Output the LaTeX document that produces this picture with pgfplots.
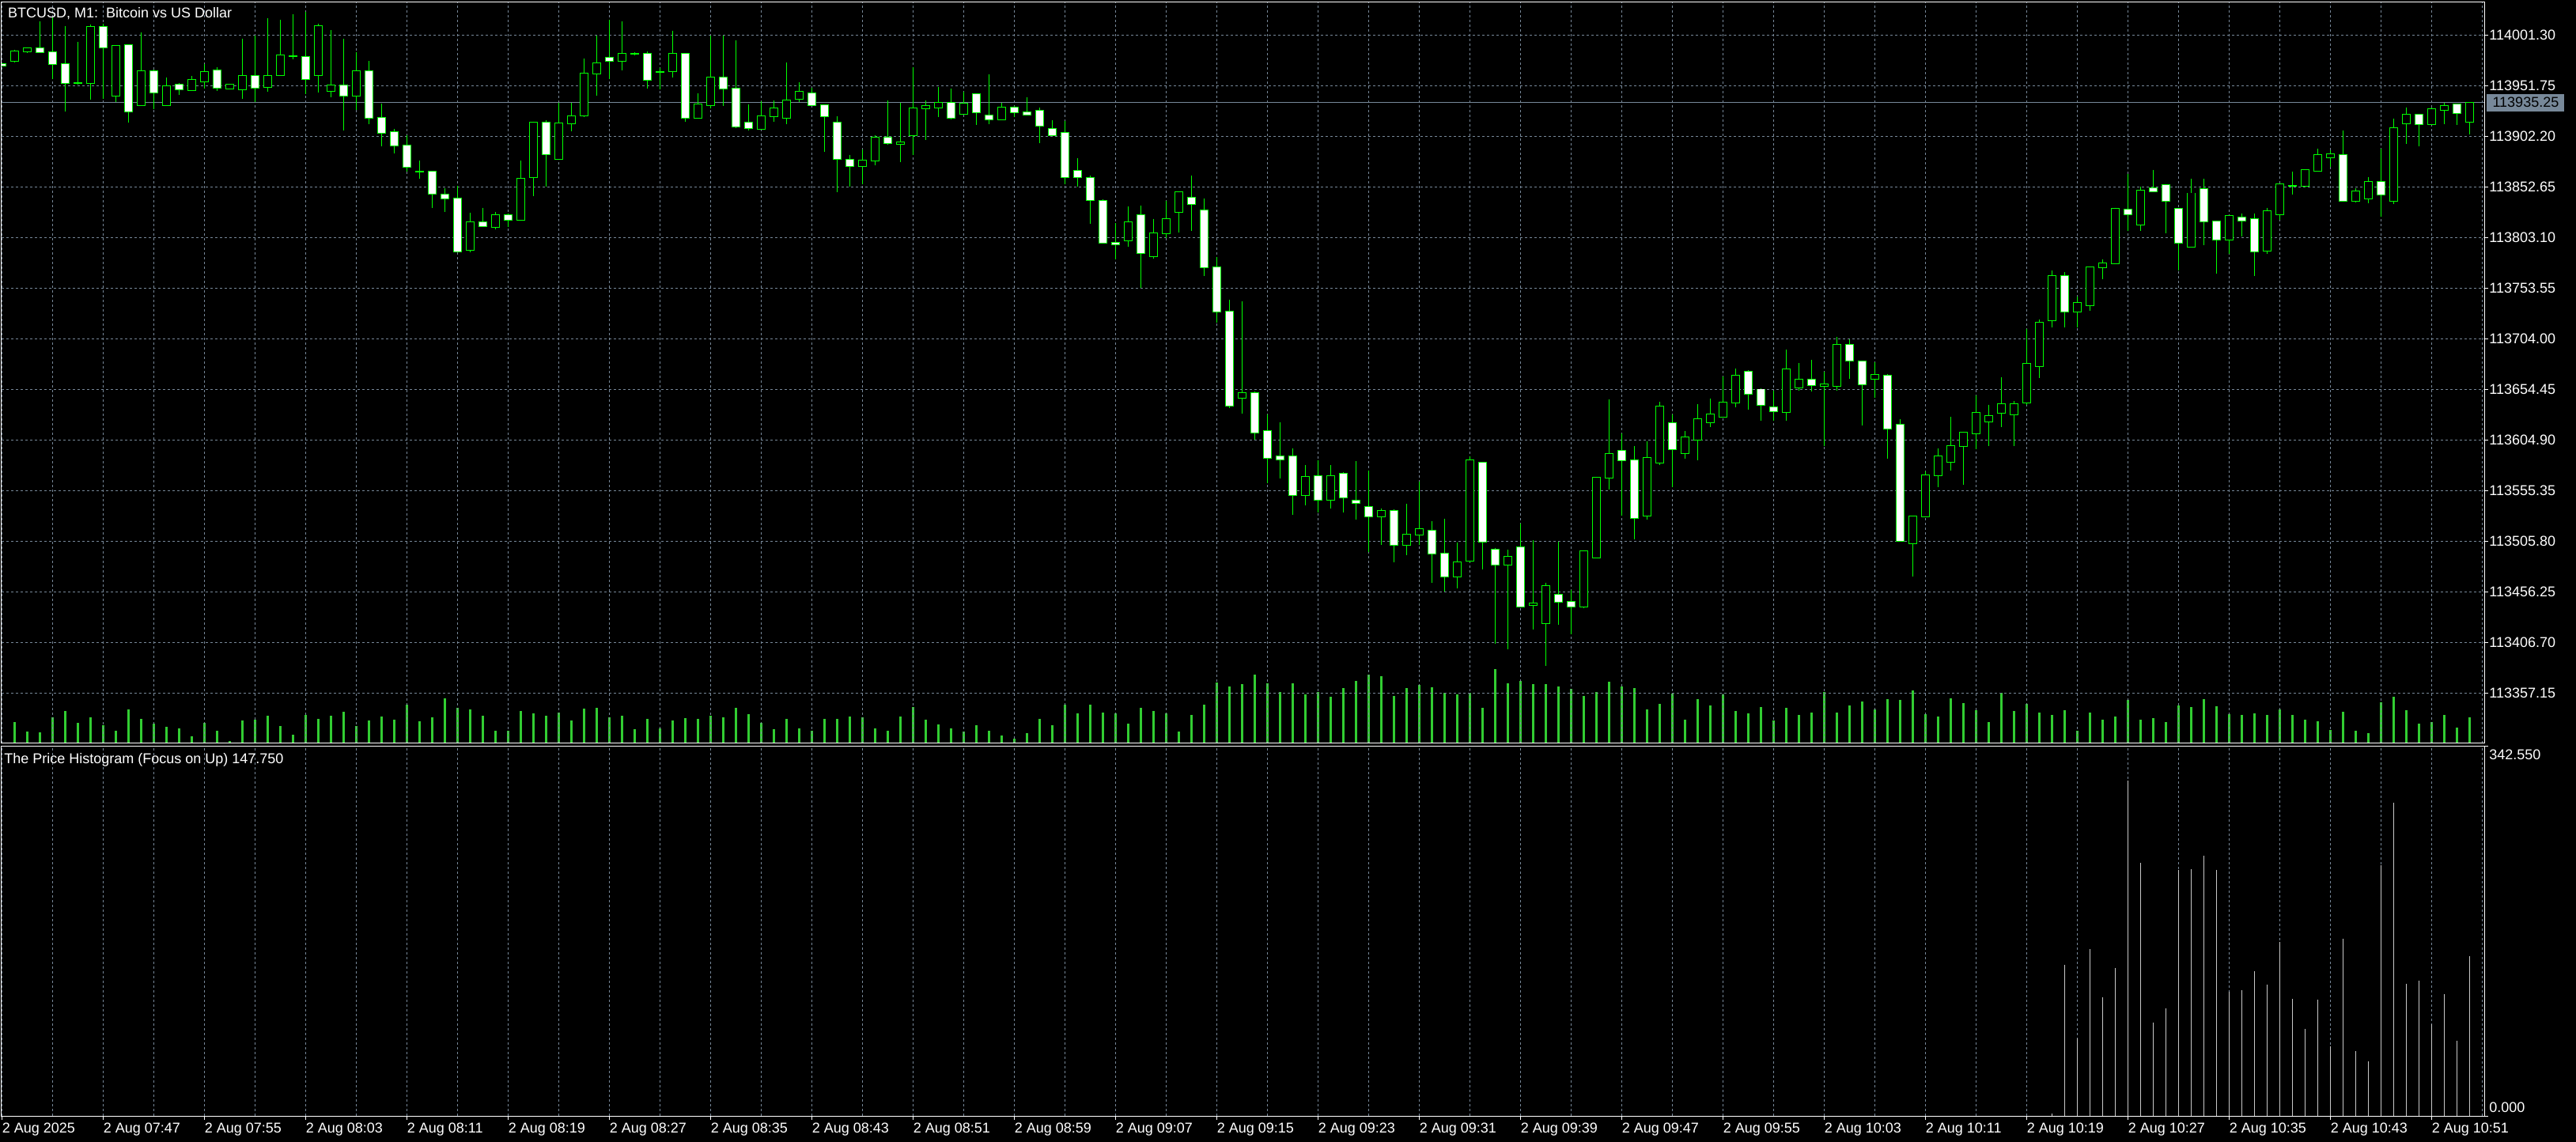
\documentclass[border=0pt]{standalone}
\usepackage{fontspec}
\setmainfont{Liberation Sans}
\usepackage{pgfplots}
\usepackage{pgfplotstable}
\pgfplotsset{compat=1.18}
\definecolor{candlegreen}{RGB}{0,255,0}
\definecolor{volgreen}{RGB}{50,205,50}
\definecolor{gridgray}{RGB}{119,136,153}
\definecolor{histgray}{RGB}{200,200,200}
\newcommand{\mtfont}{\fontsize{9}{10.8}\selectfont}

\pgfplotstableread{
i o h l c
0 113972.9 113973.7 113970.6 113971.3
1 113975.8 113986.6 113974.7 113985.0
2 113985.0 113988.4 113983.5 113988.1
3 113988.1 114014.5 113983.5 113984.3
4 113984.3 114019.3 113958.2 113972.7
5 113972.7 114010.1 113926.4 113954.1
6 113954.3 113994.6 113952.8 113954.3
7 113954.5 114011.6 113938.1 114009.3
8 114009.0 114012.4 113938.8 113988.9
9 113942.2 113991.2 113935.7 113990.5
10 113991.2 113991.5 113915.6 113926.7
11 113932.4 114003.9 113931.9 113965.7
12 113965.7 113967.5 113929.0 113945.3
13 113932.9 113959.7 113932.6 113951.0
14 113953.0 113954.3 113942.7 113947.9
15 113947.6 113961.0 113947.3 113957.2
16 113956.1 113973.1 113948.9 113964.9
17 113966.5 113969.8 113946.8 113949.4
18 113948.9 113953.5 113948.9 113952.5
19 113947.9 113997.7 113939.1 113961.0
20 113961.0 114001.0 113935.5 113949.4
21 113950.2 114017.8 113946.0 113961.5
22 113961.8 114016.2 113961.3 113981.2
23 113980.6 114021.7 113977.8 113980.6
24 113980.1 114024.2 113943.7 113958.0
25 113961.8 114012.1 113944.8 114009.8
26 113946.3 114006.2 113940.6 113951.8
27 113951.8 113997.4 113908.1 113941.7
28 113941.7 113984.3 113928.2 113965.7
29 113965.7 113975.8 113914.3 113920.0
30 113920.0 113934.0 113892.6 113905.3
31 113906.1 113909.2 113885.6 113892.9
32 113892.9 113903.2 113867.8 113872.0
33 113867.6 113878.2 113860.6 113867.6
34 113867.4 113867.6 113831.8 113845.7
35 113845.4 113851.3 113828.4 113841.0
36 113841.0 113853.9 113789.4 113789.4
37 113790.7 113827.1 113788.9 113817.8
38 113818.3 113832.2 113813.2 113814.0
39 113813.2 113828.1 113811.3 113824.8
40 113824.8 113826.6 113813.6 113820.4
41 113820.4 113878.2 113820.4 113860.6
42 113862.0 113916.4 113843.8 113915.8
43 113915.8 113917.9 113853.1 113884.4
44 113880.2 113935.3 113880.0 113915.2
45 113915.2 113935.3 113907.2 113921.8
46 113922.2 113978.2 113921.3 113963.3
47 113963.3 114001.1 113941.8 113973.5
48 113978.7 114016.0 113958.2 113976.3
49 113976.3 114014.6 113966.5 113982.9
50 113982.9 113984.3 113981.4 113982.9
51 113982.9 113985.3 113948.9 113957.2
52 113965.2 113969.0 113948.1 113965.2
53 113965.6 114005.7 113959.5 113982.9
54 113982.9 113983.0 113916.6 113919.9
55 113919.9 113944.2 113919.9 113933.4
56 113932.9 114000.6 113929.7 113959.5
57 113959.5 114001.1 113931.5 113948.8
58 113948.8 113996.0 113910.1 113912.0
59 113915.7 113933.4 113908.2 113910.1
60 113909.1 113936.2 113909.1 113921.8
61 113921.8 113937.1 113916.1 113929.2
62 113919.9 113974.4 113914.3 113937.6
63 113938.5 113954.9 113935.7 113946.0
64 113944.2 113949.3 113932.5 113932.5
65 113932.5 113932.6 113886.7 113921.8
66 113915.7 113921.8 113847.1 113879.8
67 113879.3 113883.9 113852.7 113873.2
68 113873.2 113889.5 113855.4 113878.4
69 113878.4 113903.1 113874.1 113901.2
70 113901.2 113937.1 113894.2 113895.6
71 113894.7 113935.3 113876.5 113896.1
72 113903.5 113969.8 113883.5 113929.2
73 113929.2 113937.1 113898.9 113932.0
74 113930.6 113950.2 113920.8 113935.3
75 113934.8 113948.8 113918.9 113919.9
76 113924.0 113945.6 113923.1 113934.3
77 113943.2 113944.2 113912.9 113925.4
78 113922.6 113962.8 113913.8 113918.5
79 113918.5 113934.8 113918.5 113930.6
80 113930.6 113932.0 113921.3 113925.9
81 113925.9 113940.4 113923.6 113923.6
82 113927.4 113930.2 113895.2 113912.4
83 113909.6 113918.0 113902.1 113903.1
84 113905.8 113917.5 113855.0 113862.5
85 113868.5 113880.7 113853.1 113862.5
86 113861.6 113863.9 113816.3 113840.0
87 113839.1 113840.5 113797.2 113798.1
88 113798.1 113817.2 113781.3 113796.2
89 113799.9 113833.5 113794.4 113818.1
90 113825.1 113834.5 113753.7 113788.2
91 113785.0 113821.4 113782.7 113807.4
92 113806.9 113839.1 113802.3 113821.4
93 113828.4 113847.5 113807.8 113847.5
94 113842.4 113863.9 113809.3 113835.9
95 113829.4 113841.0 113765.4 113774.2
96 113774.2 113783.6 113719.7 113730.4
97 113730.9 113742.1 113636.1 113638.4
98 113646.4 113740.6 113631.0 113651.1
99 113651.1 113652.4 113605.3 113611.9
100 113613.7 113629.6 113562.9 113587.6
101 113588.5 113622.2 113567.5 113585.7
102 113588.5 113596.9 113531.6 113551.2
103 113551.2 113580.1 113540.9 113568.9
104 113569.8 113584.8 113533.9 113546.5
105 113546.5 113580.1 113537.6 113569.8
106 113572.2 113573.4 113533.9 113548.9
107 113545.5 113583.9 113527.0 113543.2
108 113539.6 113575.0 113495.2 113529.7
109 113529.7 113538.1 113502.2 113535.8
110 113535.8 113537.0 113484.9 113502.2
111 113502.2 113542.4 113492.0 113512.5
112 113512.5 113564.3 113502.2 113517.7
113 113516.2 113525.6 113465.3 113493.4
114 113493.4 113527.9 113456.5 113470.9
115 113470.9 113504.5 113459.3 113485.4
116 113486.3 113588.5 113484.9 113585.3
117 113582.5 113583.5 113477.9 113505.4
118 113497.5 113499.4 113405.6 113483.1
119 113482.6 113497.5 113400.0 113490.6
120 113499.9 113523.2 113441.6 113441.6
121 113443.0 113506.8 113419.6 113444.8
122 113425.7 113465.3 113383.7 113461.6
123 113453.6 113505.0 113424.3 113446.7
124 113446.7 113458.4 113414.9 113441.6
125 113441.6 113496.6 113440.6 113495.7
126 113489.6 113568.9 113489.6 113568.0
127 113568.0 113644.6 113556.4 113591.4
128 113594.6 113611.0 113530.7 113585.3
129 113585.3 113598.8 113507.8 113528.3
130 113531.1 113603.4 113527.0 113587.6
131 113582.9 113642.2 113580.6 113638.0
132 113621.2 113629.6 113558.7 113596.0
133 113591.8 113613.7 113586.2 113607.2
134 113604.8 113639.9 113584.8 113625.0
135 113622.2 113645.5 113617.9 113629.6
136 113627.3 113666.9 113627.3 113641.3
137 113641.3 113674.8 113636.6 113667.9
138 113672.0 113673.3 113634.3 113650.1
139 113654.3 113655.5 113623.5 113638.9
140 113636.6 113652.9 113624.0 113633.3
141 113632.4 113693.1 113624.0 113674.4
142 113656.6 113680.0 113652.9 113663.7
143 113663.7 113683.3 113652.0 113658.6
144 113658.1 113671.6 113599.3 113659.5
145 113657.6 113705.6 113652.9 113697.7
146 113697.7 113703.3 113664.6 113682.3
147 113681.9 113682.6 113618.9 113659.5
148 113665.1 113680.9 113646.4 113668.3
149 113668.2 113669.4 113586.2 113616.3
150 113619.9 113625.4 113506.3 113506.3
151 113503.4 113530.8 113471.2 113530.1
152 113530.1 113574.3 113529.3 113570.1
153 113570.1 113596.7 113558.9 113589.0
154 113583.4 113627.5 113575.0 113598.8
155 113598.8 113612.9 113560.9 113612.1
156 113611.4 113648.6 113596.0 113631.8
157 113623.3 113639.4 113598.8 113628.2
158 113631.1 113666.1 113617.7 113640.1
159 113629.6 113642.9 113598.8 113640.1
160 113641.5 113713.8 113638.8 113679.5
161 113677.3 113722.9 113665.4 113719.4
162 113722.2 113770.6 113715.2 113765.6
163 113765.6 113769.2 113715.2 113730.6
164 113730.6 113745.4 113715.2 113739.0
165 113736.9 113774.7 113731.3 113774.1
166 113774.1 113781.8 113762.2 113777.6
167 113777.6 113832.3 113777.6 113830.9
168 113830.2 113865.2 113809.2 113826.0
169 113815.4 113852.6 113809.2 113849.1
170 113851.2 113869.5 113848.2 113848.4
171 113854.7 113855.2 113807.1 113838.6
172 113830.9 113832.0 113770.6 113797.9
173 113794.4 113860.3 113793.0 113846.3
174 113850.5 113860.3 113795.8 113819.0
175 113819.0 113819.6 113767.8 113800.7
176 113800.7 113825.0 113786.7 113824.6
177 113822.5 113826.6 113804.2 113819.7
178 113821.1 113826.6 113765.6 113789.5
179 113790.2 113832.3 113786.7 113828.7
180 113826.0 113856.0 113820.4 113855.4
181 113854.0 113867.3 113844.9 113854.0
182 113853.3 113869.9 113851.9 113869.5
183 113868.1 113889.7 113868.1 113884.2
184 113881.4 113888.4 113872.2 113884.9
185 113884.2 113908.0 113838.6 113838.6
186 113838.6 113851.2 113837.2 113848.4
187 113841.4 113862.4 113836.5 113857.5
188 113857.5 113889.7 113823.2 113844.9
189 113839.3 113919.2 113835.8 113910.1
190 113915.0 113930.5 113894.7 113923.4
191 113923.4 113924.1 113892.6 113914.3
192 113914.3 113930.5 113914.3 113929.0
193 113927.6 113935.3 113914.3 113931.9
194 113933.2 113933.4 113912.9 113924.8
195 113916.4 113935.3 113903.8 113935.25
}\candles

\pgfplotstableread{
i v
1 45
2 25
3 24
4 55
5 68
6 43
7 55
8 38
9 27
10 72
11 52
12 42
13 35
14 32
15 15
16 43
17 27
18 5
19 48
20 49
21 58
22 37
23 19
24 59
25 52
26 58
27 67
28 37
29 48
30 57
31 50
32 82
33 47
34 55
35 95
36 75
37 72
38 58
39 27
40 27
41 68
42 63
43 58
44 65
45 48
46 73
47 75
48 55
49 58
50 30
51 52
52 32
53 48
54 53
55 52
56 58
57 55
58 75
59 62
60 43
61 30
62 52
63 32
64 27
65 52
66 52
67 57
68 55
69 32
70 27
71 57
72 77
73 50
74 40
75 32
76 25
77 38
78 27
79 17
80 10
81 22
82 52
83 38
84 82
85 63
86 82
87 65
88 63
89 42
90 75
91 68
92 63
93 25
94 60
95 82
96 128
97 120
98 125
99 145
100 126
101 108
102 126
103 103
104 108
105 98
106 116
107 131
108 145
109 141
110 100
111 116
112 123
113 118
114 106
115 103
116 106
117 75
118 156
119 126
120 131
121 125
122 125
123 120
124 115
125 100
126 108
127 130
128 119
129 116
130 72
131 83
132 105
133 50
134 93
135 80
136 103
137 68
138 63
139 77
140 48
141 75
142 60
143 65
144 108
145 65
146 80
147 88
148 72
149 93
150 92
151 111
152 62
153 57
154 95
155 84
156 69
157 45
158 107
159 68
160 83
161 65
162 59
163 69
164 26
165 65
166 50
167 57
168 92
169 50
170 53
171 45
172 80
173 77
174 93
175 78
176 62
177 60
178 63
179 60
180 71
181 59
182 50
183 47
184 29
185 66
186 26
187 21
188 86
189 98
190 69
191 41
192 44
193 60
194 33
195 54
}\volumes

\pgfplotstableread{
i v
162 2.0
163 139.9
164 71.6
165 154.5
166 110.0
167 136.6
168 310.3
169 234.0
170 86.2
171 99.4
172 227.4
173 228.7
174 240.6
175 227.4
176 114.7
177 116.7
178 133.9
179 121.3
180 161.1
181 108.1
182 80.2
183 107.4
184 64.3
185 163.7
186 59.7
187 50.4
188 232.0
189 289.7
190 122.6
191 125.3
192 84.9
193 112.7
194 69.6
195 147.75
}\histo

\pgfplotsset{
  chartax/.style={
    scale only axis, width=1569.5pt, anchor=north west,
    xmin=-0.03125, xmax=196.15625,
    axis line style={white, line width=0.5pt},
    tick style={white, line width=0.5pt},
    major tick length=2.5pt, minor tick length=0pt,
    tick align=outside,
    ticklabel style={text=white, font=\mtfont, inner sep=0pt},
    xtick={0,8,...,192}, minor xtick={4,12,...,196},
    xmajorgrids, xminorgrids,
    major grid style={gridgray, dash pattern=on 1.5pt off 1.5pt, line width=0.5pt},
    minor grid style={gridgray, dash pattern=on 1.5pt off 1.5pt, line width=0.5pt},
    clip mode=individual,
  },
  % error-bar-only plots: markers made invisible
  ebonly/.style={only marks, mark=*, mark size=0pt, mark options={draw=none, fill=none}, forget plot},
}

\begin{document}
\begin{tikzpicture}
\path[use as bounding box, fill=black] (0,0) rectangle (1628.5pt,-722pt);

% volume overlay
\begin{axis}[chartax, at={(1pt,-1.25pt)}, height=468.75pt,
  ymin=0, ymax=1555.3, hide axis]
\addplot[ycomb, volgreen, line width=1.1pt, mark=none] table[x=i, y=v] {\volumes};
\end{axis}

% main price panel
\begin{axis}[chartax, at={(1pt,-1.25pt)}, height=468.75pt,
  ymin=113307.83, ymax=114033.66,
  xtick pos=bottom, xmajorticks=false, xminorticks=false,
  ytick={114001.30,113951.75,113902.20,113852.65,113803.10,113753.55,113704.00,113654.45,113604.90,113555.35,113505.80,113456.25,113406.70,113357.15},
  yticklabels={114001.30,113951.75,113902.20,113852.65,113803.10,113753.55,113704.00,113654.45,113604.90,113555.35,113505.80,113456.25,113406.70,113357.15},
  ymajorgrids, ytick pos=right, yticklabel pos=right,
  yticklabel style={anchor=west, xshift=0.5pt},
  unbounded coords=discard,
]
\addplot[gridgray, line width=0.5pt, forget plot] coordinates {(-0.03125,113935.25) (196.15625,113935.25)};
% wicks
\addplot[candlegreen, ebonly,
  error bars/.cd, y dir=minus, y explicit, error mark=none,
  error bar style={draw=candlegreen, line width=0.65pt}]
  table[x=i, y=h, y error minus expr={\thisrow{h}-\thisrow{l}}] {\candles};
% body outline
\addplot[candlegreen, ebonly,
  error bars/.cd, y dir=both, y explicit, error mark=none,
  error bar style={draw=candlegreen, line width=5.2pt}]
  table[x=i, y=o, y error plus expr={max(\thisrow{c}-\thisrow{o},0)+0.77}, y error minus expr={max(\thisrow{o}-\thisrow{c},0)+0.77}] {\candles};
% bear bodies (white), only where open > close
\addplot[white, ebonly,
  error bars/.cd, y dir=minus, y explicit, error mark=none,
  error bar style={draw=white, line width=4.2pt}]
  table[x=i, y expr={\thisrow{o}>\thisrow{c} ? \thisrow{o} : nan}, y error minus expr={max(\thisrow{o}-\thisrow{c},0)}] {\candles};
% bull bodies (hollow), only where close > open
\addplot[black, ebonly,
  error bars/.cd, y dir=plus, y explicit, error mark=none,
  error bar style={draw=black, line width=4.2pt}]
  table[x=i, y expr={\thisrow{c}>\thisrow{o} ? \thisrow{o} : nan}, y error plus expr={max(\thisrow{c}-\thisrow{o},0)}] {\candles};
\end{axis}

% histogram subwindow
\begin{axis}[chartax, at={(1pt,-471.5pt)}, height=234pt,
  ymin=0, ymax=342.55,
  ytick={0,342.55}, yticklabels={\mbox{},\mbox{}}, ytick pos=right, yticklabel pos=right,
  xtick pos=bottom,
  xticklabels={2 Aug 2025,2 Aug 07:47,2 Aug 07:55,2 Aug 08:03,2 Aug 08:11,2 Aug 08:19,2 Aug 08:27,2 Aug 08:35,2 Aug 08:43,2 Aug 08:51,2 Aug 08:59,2 Aug 09:07,2 Aug 09:15,2 Aug 09:23,2 Aug 09:31,2 Aug 09:39,2 Aug 09:47,2 Aug 09:55,2 Aug 10:03,2 Aug 10:11,2 Aug 10:19,2 Aug 10:27,2 Aug 10:35,2 Aug 10:43,2 Aug 10:51},
  xticklabel style={anchor=north west, yshift=-2pt},
]
\addplot[ycomb, histgray, line width=0.5pt, mark=none] table[x=i, y=v] {\histo};
\end{axis}

% texts
\node[anchor=base west, text=white, inner sep=0pt, font=\mtfont] at (4.9pt,-11.25pt) {BTCUSD, M1:\ \ Bitcoin vs US Dollar};
\node[anchor=base west, text=white, inner sep=0pt, font=\mtfont] at (2.5pt,-482.5pt) {The Price Histogram (Focus on Up) 147.750};
\node[anchor=west, fill=gridgray, text=black, inner sep=0pt, minimum width=49pt, minimum height=11pt, font=\mtfont] at (1572pt,-64.8pt) {113935.25};
\node[anchor=west, text=white, inner sep=0pt, font=\mtfont] at (1573.5pt,-477pt) {342.550};
\node[anchor=west, text=white, inner sep=0pt, font=\mtfont] at (1573.5pt,-700pt) {0.000};
\end{tikzpicture}
\end{document}
